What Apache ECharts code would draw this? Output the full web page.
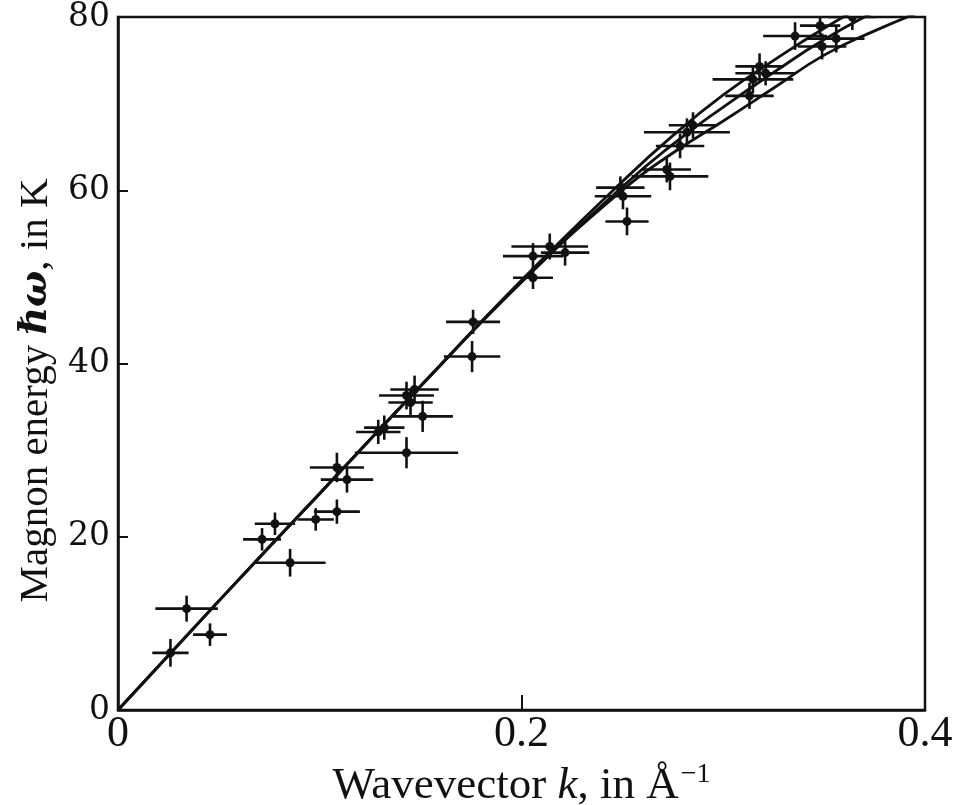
<!DOCTYPE html>
<html>
<head>
<meta charset="utf-8">
<script src="https://cdn.jsdelivr.net/npm/echarts@6/dist/echarts.min.js"></script>
<style>
  html, body { margin: 0; padding: 0; background: #fff; }
  #chart { width: 956px; height: 805px; }
</style>
</head>
<body>
<div id="chart"></div>
<script>
// measured points: wavevector k, energy, half widths of the error bars
const kVals  = [0.026, 0.034, 0.0456, 0.0714, 0.0778, 0.0853, 0.098, 0.1085, 0.1085, 0.1135,
                0.129, 0.132, 0.143, 0.151, 0.143, 0.147, 0.145, 0.176, 0.1755, 0.2057,
                0.2057, 0.214, 0.2216, 0.2503, 0.2523, 0.249, 0.272, 0.2736, 0.2786, 0.282,
                0.285, 0.3147, 0.318, 0.313, 0.3356, 0.349, 0.356, 0.348, 0.364, 0.321];
const eVals  = [6.6, 11.7, 8.7, 19.7, 21.5, 17.0, 22.0, 22.9, 28.0, 26.6,
                32.1, 32.6, 29.7, 33.9, 36.3, 37.0, 35.5, 44.8, 40.8, 49.9,
                52.4, 53.5, 52.8, 59.3, 56.4, 60.3, 62.4, 61.6, 65.1, 66.7,
                67.5, 72.8, 74.3, 70.9, 77.8, 76.6, 77.5, 79.0, 80.0, 73.5];
const dkVals = [0.009, 0.0155, 0.0084, 0.0094, 0.010, 0.0176, 0.009, 0.0114, 0.0134, 0.013,
                0.011, 0.010, 0.0256, 0.015, 0.0136, 0.012, 0.011, 0.0134, 0.014, 0.0099,
                0.0149, 0.019, 0.012, 0.014, 0.0107, 0.012, 0.012, 0.019, 0.012, 0.0213,
                0.012, 0.020, 0.012, 0.012, 0.0158, 0.012, 0.014, 0.010, 0.012, 0.015];
const deVals = [1.6, 1.5, 1.3, 1.3, 1.3, 1.6, 1.3, 1.4, 1.7, 1.5,
                1.4, 1.4, 1.8, 1.8, 1.6, 1.6, 1.5, 1.4, 1.8, 1.3,
                1.5, 1.5, 1.5, 1.5, 1.6, 1.3, 1.5, 1.6, 1.4, 1.6,
                1.5, 1.6, 1.5, 1.5, 1.6, 1.5, 1.6, 1.3, 1.5, 1.4];

// theory curves (three directions)
const kLine = [0, 0.05, 0.1, 0.15, 0.2, 0.25, 0.275, 0.3, 0.325, 0.35, 0.375, 0.4];
const eLow  = [0, 12.6, 25.0, 37.4, 49.4, 60.0, 64.3, 68.0, 71.8, 75.6, 78.4, 80.8];
const eMid  = [0, 12.6, 25.0, 37.4, 49.4, 60.4, 65.3, 69.6, 73.6, 77.4, 80.6, 83.5];
const eHigh = [0, 12.6, 25.0, 37.4, 49.6, 61.0, 66.3, 71.0, 75.0, 78.7, 82.0, 85.0];

const xTicks = [0, 0.2, 0.4];
const yTicks = [0, 20, 40, 60, 80];

const ink = "#111";
const serif = "'Liberation Serif', 'DejaVu Serif', serif";

const pointData = kVals.map((k, i) => [k, eVals[i], dkVals[i], deVals[i]]);

function lineSeries(eArr) {
  return {
    type: "line",
    data: kLine.map((k, i) => [k, eArr[i]]),
    smooth: true,
    showSymbol: false,
    clip: true,
    lineStyle: { color: ink, width: 2.8 },
    z: 2,
  };
}

// cross shaped error bar with a dot at the centre
function renderBar(params, api) {
  const k = api.value(0), e = api.value(1), dk = api.value(2), de = api.value(3);
  const c = api.coord([k, e]);
  const l = api.coord([k - dk, e]);
  const r = api.coord([k + dk, e]);
  const t = api.coord([k, e + de]);
  const b = api.coord([k, e - de]);
  const st = { stroke: ink, lineWidth: 2.6 };
  return {
    type: "group",
    children: [
      { type: "line", shape: { x1: l[0], y1: c[1], x2: r[0], y2: c[1] }, style: st },
      { type: "line", shape: { x1: c[0], y1: t[1], x2: c[0], y2: b[1] }, style: st },
      { type: "circle", shape: { cx: c[0], cy: c[1], r: 4.5 }, style: { fill: ink } },
    ],
  };
}

const chartInstance = echarts.init(document.getElementById("chart"));

const option = {
  backgroundColor: "#fff",
  animation: false,
  grid: {
    left: 118, right: 31, top: 17, bottom: 95,
    show: true, borderColor: ink, borderWidth: 2.5,
    outerBoundsMode: "none",
  },
  xAxis: {
    type: "value",
    min: xTicks[0], max: xTicks[xTicks.length - 1], interval: 0.2,
    axisLine: { show: true, lineStyle: { color: ink, width: 2.5 } },
    axisTick: { show: true, inside: true, length: 15, lineStyle: { color: ink, width: 2 } },
    splitLine: { show: false },
    axisLabel: {
      color: ink, fontFamily: serif, fontSize: 44, margin: 2,
      formatter: (v) => (v === 0 ? "0" : v.toFixed(1)),
    },
    name: "{a|Wavevector }{i|k}{a|, in Å}{s|−1}",
    nameLocation: "middle",
    nameGap: 45,
    nameTextStyle: {
      rich: {
        a: { fontFamily: serif, fontSize: 45, color: ink },
        i: { fontFamily: serif, fontSize: 45, fontStyle: "italic", color: ink },
        s: { fontFamily: serif, fontSize: 28, color: ink, padding: [0, 0, 22, 2] },
      },
    },
  },
  yAxis: {
    type: "value",
    min: yTicks[0], max: yTicks[yTicks.length - 1], interval: 20,
    axisLine: { show: true, lineStyle: { color: ink, width: 2.5 } },
    axisTick: { show: true, inside: true, length: 10, lineStyle: { color: ink, width: 2 } },
    splitLine: { show: false },
    axisLabel: { color: ink, fontFamily: "'DejaVu Serif', serif", fontSize: 33, margin: 8 },
    name: "{a|Magnon energy }{i|ℏω}{a|, in K}",
    nameLocation: "middle",
    nameRotate: 90,
    nameGap: 52,
    nameTextStyle: {
      padding: [0, 54, 0, 0],
      rich: {
        a: { fontFamily: serif, fontSize: 41, color: ink },
        i: { fontFamily: "'DejaVu Serif', serif", fontSize: 38, fontStyle: "italic", fontWeight: "bold", color: ink },
      },
    },
  },
  series: [
    lineSeries(eLow),
    lineSeries(eMid),
    lineSeries(eHigh),
    {
      type: "custom",
      renderItem: renderBar,
      data: pointData,
      encode: { x: 0, y: 1 },
      clip: true,
      z: 3,
    },
  ],
};

chartInstance.setOption(option);
</script>
</body>
</html>
